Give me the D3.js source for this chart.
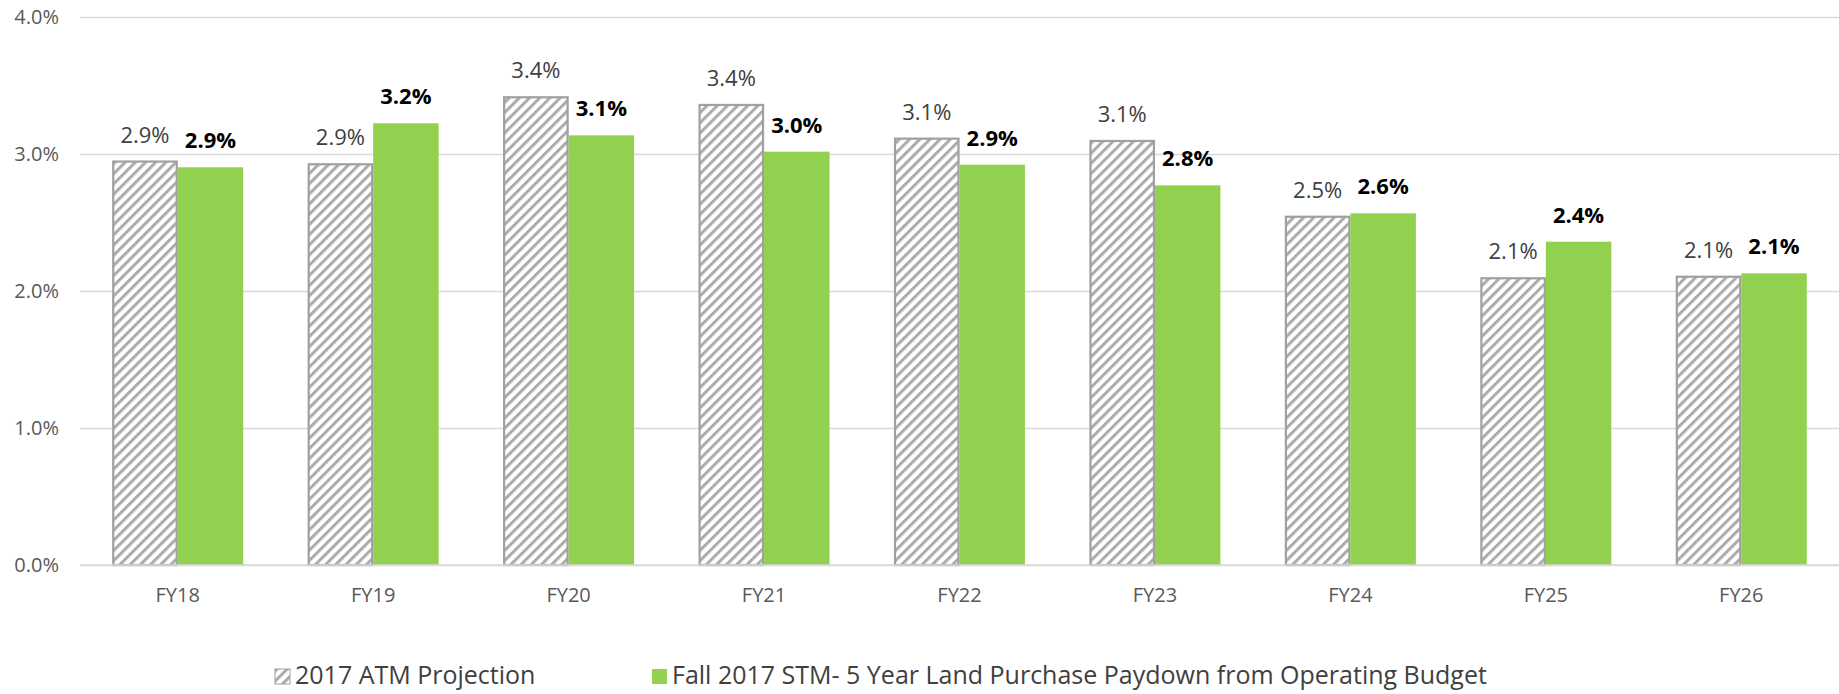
<!DOCTYPE html>
<html>
<head>
<meta charset="utf-8">
<script src="https://cdn.jsdelivr.net/npm/d3@7"></script>
<style>
  body { margin: 0; background: #fff; }
  text { font-family: "Open Sans", sans-serif; }
</style>
</head>
<body>
<script>
var categories = ["FY18", "FY19", "FY20", "FY21", "FY22", "FY23", "FY24", "FY25", "FY26"];
var atmProjection = [2.945, 2.925, 3.414, 3.358, 3.112, 3.095, 2.542, 2.093, 2.104];
var stmPaydown = [2.903, 3.224, 3.136, 3.017, 2.922, 2.771, 2.567, 2.36, 2.129];
var yTicks = [0, 1, 2, 3, 4];
var seriesNames = ["2017 ATM Projection", "Fall 2017 STM- 5 Year Land Purchase Paydown from Operating Budget"];

var w = 1839; // svg width
var h = 694;  // svg height
var plotLeft = 80, plotRight = 1839, plotTop = 17, plotBottom = 565;

var rows = categories.map(function(c, i) {
    return { cat: c, values: [atmProjection[i], stmPaydown[i]] };
});

var svg = d3.select("body")
    .append("svg")
    .attr("width", w)
    .attr("height", h);

// hatch pattern for the ATM series
var defs = svg.append("defs");
var pat = defs.append("pattern")
    .attr("id", "hatch")
    .attr("patternUnits", "userSpaceOnUse")
    .attr("width", 7.2)
    .attr("height", 7.2)
    .attr("patternTransform", "rotate(45)");
pat.append("rect")
    .attr("width", 7.2).attr("height", 7.2)
    .attr("fill", "#fff");
pat.append("rect")
    .attr("width", 3).attr("height", 7.2)
    .attr("fill", "#ababab");

var x0 = d3.scaleBand()
    .domain(categories)
    .range([plotLeft, plotRight])
    .paddingInner(0.33)
    .paddingOuter(0.165);

var x1 = d3.scaleBand()
    .domain([0, 1])
    .range([0, x0.bandwidth()]);

var y = d3.scaleLinear()
    .domain([0, 4])
    .range([plotBottom, plotTop]);

// gridlines + y labels
var yAxis = d3.axisLeft(y)
    .tickValues(yTicks)
    .tickSize(-(plotRight - plotLeft))
    .tickPadding(21)
    .tickFormat(function(d) { return d.toFixed(1) + "%"; });

var gy = svg.append("g")
    .attr("class", "y axis")
    .attr("transform", "translate(" + plotLeft + ", 0)")
    .call(yAxis);
gy.select(".domain").remove();
gy.selectAll("line").attr("stroke", "#d9d9d9").attr("stroke-width", 1.5);
gy.selectAll("text")
    .attr("fill", "#595959")
    .attr("font-size", "20px");

// bars
var groups = svg.selectAll("g.cat")
    .data(rows)
    .enter()
    .append("g")
    .attr("class", "cat")
    .attr("transform", function(d) { return "translate(" + x0(d.cat) + ",0)"; });

groups.selectAll("rect")
    .data(function(d) { return d.values; })
    .enter()
    .append("rect")
    .attr("x", function(d, i) { return x1(i) + (i === 0 ? 1 : 0); })
    .attr("y", function(d) { return y(d); })
    .attr("width", function(d, i) { return x1.bandwidth() - (i === 0 ? 2 : 0); })
    .attr("height", function(d) { return y(0) - y(d); })
    .attr("fill", function(d, i) { return i === 0 ? "url(#hatch)" : "#92d050"; })
    .attr("stroke", function(d, i) { return i === 0 ? "#a0a0a0" : "none"; })
    .attr("stroke-width", 2.2);

// value labels
groups.selectAll("text")
    .data(function(d) { return d.values; })
    .enter()
    .append("text")
    .attr("x", function(d, i) { return x1(i) + x1.bandwidth() / 2; })
    .attr("y", function(d) { return y(d) - 19; })
    .attr("text-anchor", "middle")
    .attr("font-size", "22px")
    .attr("font-weight", function(d, i) { return i === 0 ? "normal" : "bold"; })
    .attr("fill", function(d, i) { return i === 0 ? "#404040" : "#000"; })
    .text(function(d) { return d.toFixed(1) + "%"; });

// category axis
var xAxis = d3.axisBottom(x0).tickSize(0).tickPadding(23);
var gx = svg.append("g")
    .attr("class", "x axis")
    .attr("transform", "translate(0, " + plotBottom + ")")
    .call(xAxis);
gx.select(".domain").attr("stroke", "#d9d9d9").attr("stroke-width", 1.5)
    .attr("d", "M" + plotLeft + ",0H" + plotRight);
gx.selectAll("text")
    .attr("fill", "#595959")
    .attr("font-size", "20px");

// legend
var legendX = [275, 652];
var legend = svg.selectAll("g.legend")
    .data(seriesNames)
    .enter()
    .append("g")
    .attr("class", "legend")
    .attr("transform", function(d, i) { return "translate(" + legendX[i] + ",669)"; });

legend.append("rect")
    .attr("width", 15)
    .attr("height", 15)
    .attr("fill", function(d, i) { return i === 0 ? "url(#hatch)" : "#92d050"; })
    .attr("stroke", function(d, i) { return i === 0 ? "#a0a0a0" : "none"; })
    .attr("stroke-width", 1);

legend.append("text")
    .attr("x", 20)
    .attr("y", 15)
    .attr("font-size", "25px")
    .attr("fill", "#404040")
    .text(function(d) { return d; });
</script>
</body>
</html>
